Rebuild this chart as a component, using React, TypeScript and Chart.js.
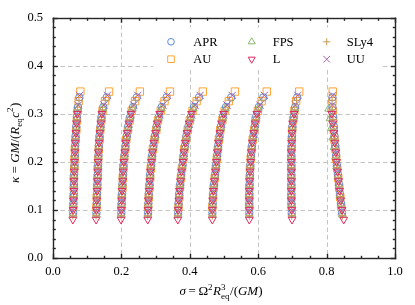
import React, { useEffect, useRef } from 'react';
import { Chart, registerables } from 'chart.js';
import { drawPoint } from 'chart.js/helpers';

Chart.register(...registerables);

// ---------------- data ----------------
const eosNames = ['APR', 'AU', 'FPS', 'L', 'SLy4', 'UU'];
const eosColors = ['#5a8ad8', '#ffa232', '#88b86c', '#e2275f', '#c99a55', '#a462b0'];
const drawOrder = [5, 6, 4, 1, 3, 2]; // lower = drawn later (on top)

// kappa values of the models (same along every sequence of an EOS)
const kAPR = [0.094, 0.114, 0.134, 0.154, 0.174, 0.194, 0.214, 0.234, 0.254, 0.274, 0.294, 0.314, 0.334];
const kAU = [0.106, 0.126, 0.146, 0.166, 0.186, 0.206, 0.226, 0.246, 0.266, 0.286, 0.306, 0.326, 0.346];
const kFPS = [0.090, 0.110, 0.130, 0.150, 0.170, 0.190, 0.210, 0.230, 0.250, 0.270, 0.290, 0.310];
const kL = [0.080, 0.100, 0.120, 0.140, 0.160, 0.180, 0.200, 0.220, 0.240, 0.260, 0.280, 0.300];
const kSLy4 = [0.088, 0.108, 0.128, 0.148, 0.168, 0.188, 0.208, 0.228, 0.248, 0.268, 0.288, 0.308, 0.328];
const kUU = [0.098, 0.118, 0.138, 0.158, 0.178, 0.198, 0.218, 0.238, 0.258, 0.278, 0.298, 0.318, 0.338];

// sigma values, one row per sequence (9 sequences)
const sAPR = [
  [0.059, 0.060, 0.061, 0.061, 0.062, 0.063, 0.064, 0.065, 0.066, 0.068, 0.070, 0.073, 0.077],
  [0.127, 0.128, 0.129, 0.130, 0.131, 0.132, 0.133, 0.134, 0.136, 0.139, 0.142, 0.147, 0.157],
  [0.200, 0.201, 0.202, 0.203, 0.205, 0.206, 0.209, 0.212, 0.216, 0.220, 0.226, 0.234, 0.245],
  [0.278, 0.279, 0.280, 0.282, 0.284, 0.287, 0.290, 0.294, 0.298, 0.303, 0.310, 0.318, 0.332],
  [0.366, 0.367, 0.369, 0.372, 0.375, 0.379, 0.382, 0.386, 0.390, 0.396, 0.403, 0.412, 0.427],
  [0.466, 0.467, 0.468, 0.471, 0.474, 0.477, 0.480, 0.483, 0.487, 0.491, 0.497, 0.506, 0.521],
  [0.574, 0.574, 0.574, 0.575, 0.576, 0.577, 0.579, 0.582, 0.586, 0.590, 0.594, 0.602, 0.615],
  [0.698, 0.697, 0.697, 0.697, 0.697, 0.697, 0.697, 0.698, 0.699, 0.700, 0.704, 0.708, 0.714],
  [0.845, 0.842, 0.839, 0.836, 0.833, 0.830, 0.828, 0.825, 0.823, 0.821, 0.819, 0.817, 0.817],
];
const sAU = [
  [0.059, 0.060, 0.061, 0.061, 0.062, 0.063, 0.064, 0.066, 0.068, 0.070, 0.072, 0.075, 0.080],
  [0.127, 0.128, 0.129, 0.130, 0.131, 0.132, 0.134, 0.136, 0.138, 0.141, 0.145, 0.152, 0.164],
  [0.200, 0.201, 0.203, 0.204, 0.206, 0.208, 0.211, 0.214, 0.219, 0.224, 0.230, 0.240, 0.254],
  [0.278, 0.280, 0.282, 0.284, 0.286, 0.289, 0.292, 0.297, 0.302, 0.307, 0.315, 0.326, 0.342],
  [0.367, 0.369, 0.371, 0.374, 0.377, 0.381, 0.384, 0.389, 0.394, 0.400, 0.408, 0.420, 0.438],
  [0.466, 0.468, 0.470, 0.473, 0.476, 0.479, 0.482, 0.485, 0.489, 0.495, 0.502, 0.514, 0.532],
  [0.574, 0.574, 0.574, 0.575, 0.576, 0.578, 0.581, 0.584, 0.588, 0.592, 0.599, 0.610, 0.625],
  [0.698, 0.697, 0.697, 0.697, 0.697, 0.697, 0.697, 0.698, 0.699, 0.702, 0.706, 0.711, 0.720],
  [0.843, 0.840, 0.837, 0.834, 0.831, 0.828, 0.826, 0.823, 0.821, 0.819, 0.818, 0.817, 0.818],
];
const sFPS = [
  [0.059, 0.060, 0.061, 0.061, 0.062, 0.063, 0.064, 0.065, 0.066, 0.068, 0.070, 0.073],
  [0.127, 0.128, 0.129, 0.130, 0.131, 0.132, 0.133, 0.134, 0.136, 0.139, 0.142, 0.146],
  [0.200, 0.201, 0.202, 0.203, 0.205, 0.206, 0.209, 0.212, 0.215, 0.220, 0.225, 0.232],
  [0.278, 0.279, 0.280, 0.282, 0.284, 0.287, 0.290, 0.293, 0.298, 0.303, 0.308, 0.317],
  [0.366, 0.367, 0.369, 0.372, 0.375, 0.378, 0.382, 0.385, 0.390, 0.395, 0.402, 0.410],
  [0.466, 0.467, 0.468, 0.471, 0.474, 0.477, 0.480, 0.483, 0.486, 0.491, 0.496, 0.504],
  [0.574, 0.574, 0.574, 0.575, 0.576, 0.577, 0.579, 0.582, 0.585, 0.589, 0.594, 0.600],
  [0.699, 0.698, 0.697, 0.697, 0.697, 0.697, 0.697, 0.698, 0.699, 0.700, 0.703, 0.707],
  [0.846, 0.843, 0.839, 0.836, 0.833, 0.829, 0.826, 0.822, 0.818, 0.814, 0.810, 0.806],
];
const sL = [
  [0.058, 0.059, 0.060, 0.061, 0.061, 0.062, 0.063, 0.064, 0.065, 0.067, 0.069, 0.071],
  [0.126, 0.127, 0.128, 0.129, 0.130, 0.131, 0.132, 0.133, 0.135, 0.137, 0.140, 0.143],
  [0.199, 0.200, 0.201, 0.202, 0.204, 0.205, 0.207, 0.210, 0.213, 0.217, 0.222, 0.228],
  [0.277, 0.278, 0.279, 0.281, 0.283, 0.285, 0.288, 0.291, 0.295, 0.300, 0.305, 0.312],
  [0.365, 0.366, 0.368, 0.370, 0.373, 0.376, 0.380, 0.383, 0.387, 0.392, 0.398, 0.405],
  [0.466, 0.466, 0.467, 0.469, 0.472, 0.475, 0.478, 0.481, 0.484, 0.488, 0.493, 0.499],
  [0.574, 0.574, 0.574, 0.574, 0.575, 0.576, 0.578, 0.580, 0.583, 0.587, 0.591, 0.596],
  [0.699, 0.698, 0.697, 0.697, 0.697, 0.697, 0.697, 0.697, 0.698, 0.699, 0.701, 0.705],
  [0.850, 0.845, 0.841, 0.838, 0.835, 0.832, 0.829, 0.827, 0.824, 0.821, 0.818, 0.815],
];
const sSLy4 = [
  [0.058, 0.059, 0.060, 0.061, 0.062, 0.063, 0.064, 0.065, 0.066, 0.068, 0.070, 0.072, 0.076],
  [0.126, 0.127, 0.128, 0.129, 0.130, 0.131, 0.132, 0.134, 0.136, 0.138, 0.141, 0.145, 0.153],
  [0.199, 0.200, 0.201, 0.203, 0.204, 0.206, 0.208, 0.211, 0.215, 0.219, 0.224, 0.231, 0.241],
  [0.277, 0.278, 0.280, 0.282, 0.284, 0.286, 0.289, 0.293, 0.297, 0.302, 0.308, 0.316, 0.327],
  [0.365, 0.367, 0.369, 0.371, 0.374, 0.378, 0.381, 0.385, 0.389, 0.394, 0.401, 0.409, 0.422],
  [0.466, 0.466, 0.468, 0.470, 0.473, 0.476, 0.479, 0.482, 0.486, 0.490, 0.495, 0.503, 0.516],
  [0.574, 0.574, 0.574, 0.574, 0.575, 0.577, 0.579, 0.581, 0.585, 0.589, 0.593, 0.600, 0.611],
  [0.698, 0.697, 0.697, 0.697, 0.697, 0.697, 0.697, 0.697, 0.698, 0.700, 0.703, 0.707, 0.712],
  [0.846, 0.843, 0.840, 0.837, 0.834, 0.831, 0.828, 0.826, 0.823, 0.821, 0.819, 0.817, 0.816],
];
const sUU = [
  [0.059, 0.060, 0.061, 0.061, 0.062, 0.063, 0.064, 0.065, 0.067, 0.069, 0.071, 0.074, 0.078],
  [0.127, 0.128, 0.129, 0.130, 0.131, 0.132, 0.133, 0.135, 0.137, 0.140, 0.143, 0.149, 0.159],
  [0.200, 0.201, 0.202, 0.204, 0.205, 0.207, 0.210, 0.213, 0.217, 0.222, 0.228, 0.236, 0.248],
  [0.278, 0.279, 0.281, 0.283, 0.285, 0.288, 0.291, 0.295, 0.300, 0.305, 0.312, 0.321, 0.335],
  [0.366, 0.368, 0.370, 0.373, 0.376, 0.380, 0.383, 0.387, 0.392, 0.398, 0.405, 0.415, 0.430],
  [0.466, 0.467, 0.469, 0.472, 0.475, 0.478, 0.481, 0.484, 0.488, 0.493, 0.499, 0.509, 0.524],
  [0.574, 0.574, 0.574, 0.575, 0.576, 0.578, 0.580, 0.583, 0.587, 0.591, 0.596, 0.605, 0.618],
  [0.698, 0.697, 0.697, 0.697, 0.697, 0.697, 0.697, 0.698, 0.699, 0.701, 0.705, 0.709, 0.716],
  [0.844, 0.841, 0.838, 0.835, 0.832, 0.829, 0.827, 0.824, 0.822, 0.820, 0.818, 0.817, 0.818],
];

const xMajorTicks = [0, 0.2, 0.4, 0.6, 0.8, 1.0];
const yMajorTicks = [0, 0.1, 0.2, 0.3, 0.4, 0.5];
const xGridLines = [0.2, 0.4, 0.6, 0.8];
const yGridLines = [0.1, 0.2, 0.3, 0.4];
const xMinorStep = 0.05;
const yMinorStep = 0.02;

// ---------------- styles ----------------
const FONT = '"Liberation Serif", "Times New Roman", serif';
const FRAME_COLOR = '#262626';
const styles = [
  { pointStyle: 'circle', radius: 3.7, rotation: 0 },
  { pointStyle: 'rect', radius: 5.2, rotation: 0 },
  { pointStyle: 'triangle', radius: 4.5, rotation: 0 },
  { pointStyle: 'triangle', radius: 4.5, rotation: 180 },
  { pointStyle: 'cross', radius: 4.0, rotation: 0 },
  { pointStyle: 'crossRot', radius: 5.2, rotation: 0 },
];

const kappas = [kAPR, kAU, kFPS, kL, kSLy4, kUU];
const sigmas = [sAPR, sAU, sFPS, sL, sSLy4, sUU];

function buildData(ki: number[], si: number[][]) {
  const pts: { x: number; y: number }[] = [];
  si.forEach((row) => row.forEach((s, j) => pts.push({ x: s, y: ki[j] })));
  return pts;
}

type Part = { t?: string; it?: boolean; sup?: string; sub?: string };

function richWidth(ctx: CanvasRenderingContext2D, parts: Part[], size: number, small: number) {
  let w = 0;
  for (const p of parts) {
    if (p.t !== undefined) {
      ctx.font = `${p.it ? 'italic ' : ''}${size}px ${FONT}`;
      w += ctx.measureText(p.t).width;
    } else {
      ctx.font = `${small}px ${FONT}`;
      w += Math.max(p.sup ? ctx.measureText(p.sup).width : 0, p.sub ? ctx.measureText(p.sub).width : 0) + 0.5;
    }
  }
  return w;
}

function drawRich(ctx: CanvasRenderingContext2D, parts: Part[], cx: number, baseY: number, size: number, small: number) {
  const total = richWidth(ctx, parts, size, small);
  let x = cx - total / 2;
  ctx.textAlign = 'left';
  ctx.textBaseline = 'alphabetic';
  ctx.fillStyle = '#000';
  for (const p of parts) {
    if (p.t !== undefined) {
      ctx.font = `${p.it ? 'italic ' : ''}${size}px ${FONT}`;
      ctx.fillText(p.t, x, baseY);
      x += ctx.measureText(p.t).width;
    } else {
      ctx.font = `${small}px ${FONT}`;
      let w = 0;
      if (p.sup) {
        ctx.fillText(p.sup, x, baseY - size * 0.42);
        w = Math.max(w, ctx.measureText(p.sup).width);
      }
      if (p.sub) {
        ctx.fillText(p.sub, x, baseY + size * 0.28);
        w = Math.max(w, ctx.measureText(p.sub).width);
      }
      x += w + 0.5;
    }
  }
}

const xTitle: Part[] = [
  { t: 'σ', it: true }, { t: '\u2009=\u2009' }, { t: 'Ω' }, { sup: '2' }, { t: 'R', it: true },
  { sup: '3', sub: 'eq' }, { t: '/(' }, { t: 'GM', it: true }, { t: ')' },
];
const yTitle: Part[] = [
  { t: 'κ', it: true }, { t: ' = ' }, { t: 'GM', it: true }, { t: '/(' }, { t: 'R', it: true },
  { sub: 'eq' }, { t: 'c', it: true }, { sup: '2' }, { t: ')' },
];

function drawFrame(chart: any) {
  const { ctx, chartArea: a, scales } = chart;
  const xs = scales.x, ys = scales.y;
  ctx.save();
  ctx.fillStyle = FRAME_COLOR;
  const x0 = Math.round(a.left), x1 = Math.round(a.right);
  const y0 = Math.round(a.top), y1 = Math.round(a.bottom);
  ctx.fillRect(x0 - 0.2, y0 - 0.2, x1 - x0 + 1.4, 1.4);
  ctx.fillRect(x0 - 0.2, y1 - 0.2, x1 - x0 + 1.4, 1.4);
  ctx.fillRect(x0 - 0.2, y0 - 0.2, 1.4, y1 - y0 + 1.4);
  ctx.fillRect(x1 - 0.2, y0 - 0.2, 1.4, y1 - y0 + 1.4);
  for (let i = 0; i <= Math.round(1 / xMinorStep); i++) {
    const v = i * xMinorStep;
    const major = xMajorTicks.some((m) => Math.abs(m - v) < 1e-6);
    const len = major ? 5 : 3;
    const px = Math.round(xs.getPixelForValue(v));
    ctx.fillRect(px - 0.2, y1 - len + 0.8, 1.4, len);
    ctx.fillRect(px - 0.2, y0 - 0.2, 1.4, len);
  }
  for (let i = 0; i <= Math.round(0.5 / yMinorStep); i++) {
    const v = i * yMinorStep;
    const major = yMajorTicks.some((m) => Math.abs(m - v) < 1e-6);
    const len = major ? 5 : 3;
    const py = Math.round(ys.getPixelForValue(v));
    ctx.fillRect(x0 - 0.2, py - 0.2, len, 1.4);
    ctx.fillRect(x1 - len + 0.8, py - 0.2, len, 1.4);
  }
  ctx.restore();
}

const decorPlugin = {
  id: 'decor',
  beforeDatasetsDraw(chart: any) {
    const { ctx, chartArea: a, scales } = chart;
    const xs = scales.x, ys = scales.y;
    ctx.save();
    ctx.strokeStyle = '#c4c4c4';
    ctx.lineWidth = 1;
    ctx.setLineDash([4.5, 3]);
    for (const v of xGridLines) {
      const px = Math.round(xs.getPixelForValue(v)) + 0.5;
      ctx.beginPath(); ctx.moveTo(px, a.top); ctx.lineTo(px, a.bottom); ctx.stroke();
    }
    for (const v of yGridLines) {
      const py = Math.round(ys.getPixelForValue(v)) + 0.5;
      ctx.beginPath(); ctx.moveTo(a.left, py); ctx.lineTo(a.right, py); ctx.stroke();
    }
    ctx.setLineDash([]);
    ctx.fillStyle = '#fff';
    ctx.fillRect(a.left + 100, a.top + 10, 229, 42);
    ctx.restore();
  },
  afterDraw(chart: any) {
    const { ctx, chartArea: a } = chart;
    ctx.save();
    const colX = [a.left + 118, a.left + 198.7, a.left + 273.7];
    const txtX = [a.left + 140.3, a.left + 219.7, a.left + 293.7];
    const rowY = [a.top + 24.3, a.top + 41.7];
    const layout = [[0, 2, 4], [1, 3, 5]];
    layout.forEach((row, r) => row.forEach((di, c) => {
      const st = styles[di];
      ctx.save();
      ctx.strokeStyle = eosColors[di];
      ctx.fillStyle = 'rgba(0,0,0,0)';
      ctx.lineWidth = 1;
      drawPoint(ctx, { pointStyle: st.pointStyle, radius: st.radius * 0.9, rotation: st.rotation, borderWidth: 1 } as any, colX[c], rowY[r]);
      ctx.restore();
      ctx.fillStyle = '#000';
      ctx.font = `12.5px ${FONT}`;
      ctx.textBaseline = 'middle';
      ctx.textAlign = 'left';
      ctx.fillText(eosNames[di], txtX[c], rowY[r] + 0.5);
    }));
    const cx = (a.left + a.right) / 2;
    drawRich(ctx, xTitle, cx - 3, a.bottom + 37, 13, 9);
    ctx.translate(14, (a.top + a.bottom) / 2 + 5);
    ctx.rotate(-Math.PI / 2);
    drawRich(ctx, yTitle, 0, 4.5, 13, 9);
    ctx.restore();
    drawFrame(chart);
  },
};

export default function App() {
  const ref = useRef<HTMLCanvasElement | null>(null);
  useEffect(() => {
    document.body.style.margin = '0';
    const canvas = ref.current!;
    const datasets = eosNames.map((name, i) => ({
      label: name,
      data: buildData(kappas[i], sigmas[i]),
      borderColor: eosColors[i],
      backgroundColor: 'rgba(0,0,0,0)',
      pointStyle: styles[i].pointStyle as any,
      pointRadius: styles[i].radius,
      pointRotation: styles[i].rotation,
      pointBorderWidth: 1,
      pointBackgroundColor: 'rgba(0,0,0,0)',
      pointBorderColor: eosColors[i],
      showLine: false,
      order: drawOrder[i],
    }));
    const tickFont = { family: FONT, size: 12.5 };
    const chart = new Chart(canvas, {
      type: 'scatter',
      data: { datasets },
      options: {
        animation: false,
        responsive: false,
        devicePixelRatio: 1,
        layout: { padding: { left: 0, right: 20, top: 15, bottom: 0 } },
        plugins: { legend: { display: false }, tooltip: { enabled: false } },
        scales: {
          x: {
            type: 'linear', min: 0, max: 1,
            afterFit: (s: any) => { s.height = 47; },
            grid: { display: false, drawTicks: false, tickLength: 0 },
            border: { display: false },
            ticks: { stepSize: 0.2, padding: 6, color: '#000', font: tickFont, maxRotation: 0, callback: (v: any) => Number(v).toFixed(1) },
          },
          y: {
            type: 'linear', min: 0, max: 0.5,
            afterFit: (s: any) => { s.width = 53; },
            grid: { display: false, drawTicks: false, tickLength: 0 },
            border: { display: false },
            ticks: { stepSize: 0.1, padding: 10, color: '#000', font: tickFont, callback: (v: any) => Number(v).toFixed(1) },
          },
        },
      } as any,
      plugins: [decorPlugin as any],
    });
    return () => chart.destroy();
  }, []);
  return <canvas ref={ref} width={415} height={305} style={{ display: 'block' }} />;
}
